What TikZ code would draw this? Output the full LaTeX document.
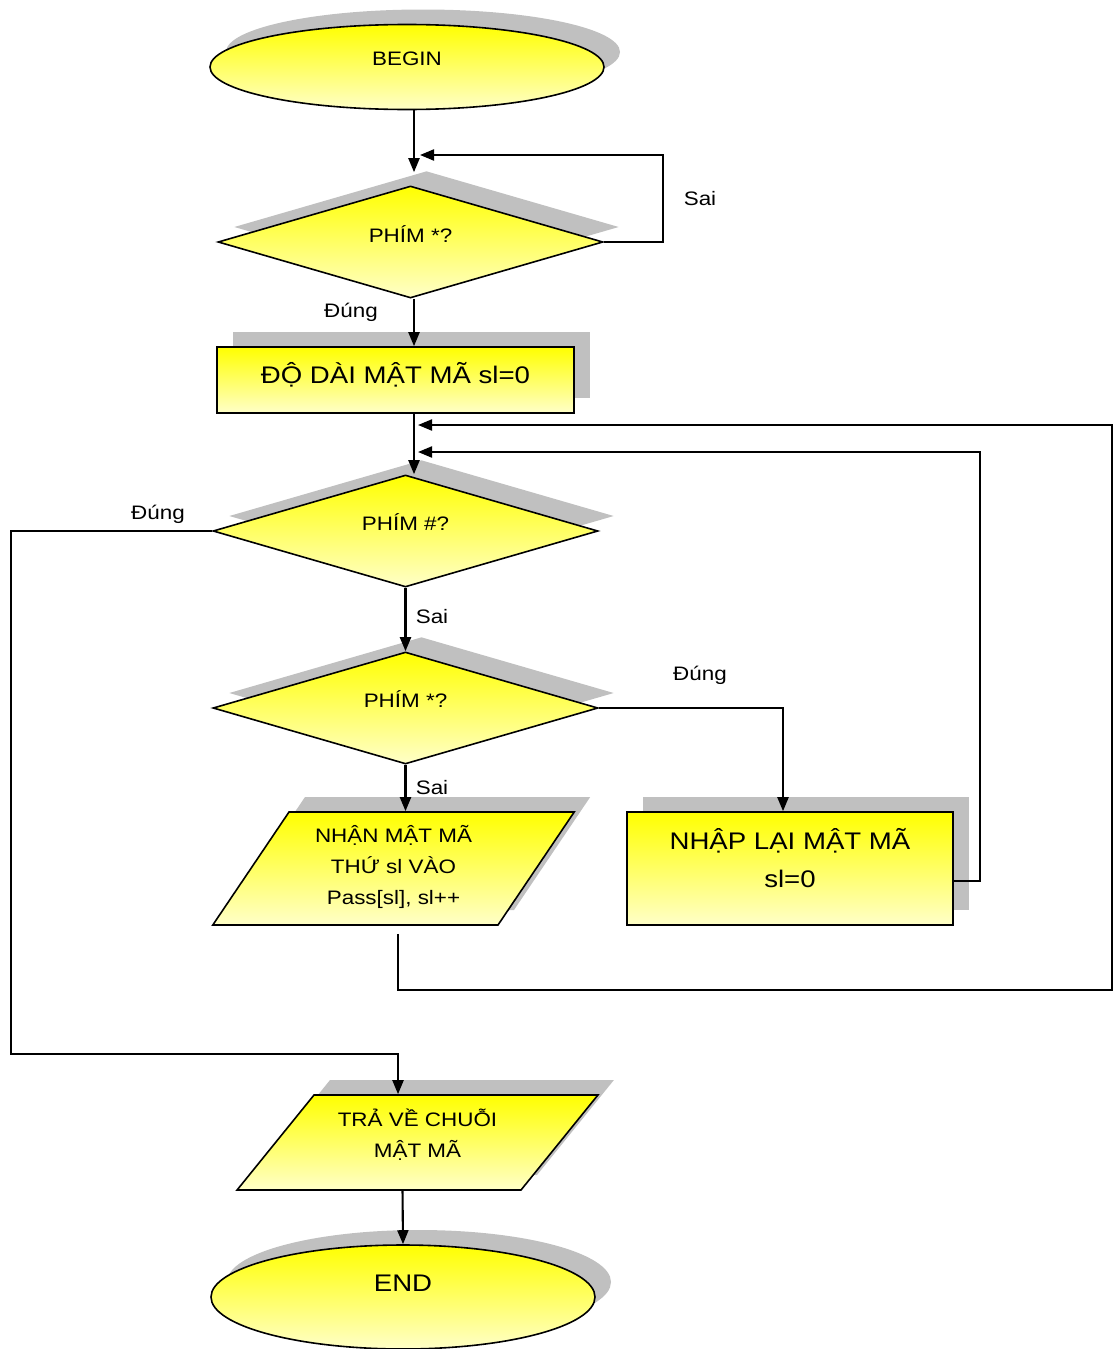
\documentclass[tikz,border=0pt]{standalone}
\usepackage{fontspec}
\setmainfont{Liberation Sans}[FakeStretch=1.15]
\usetikzlibrary{shapes.geometric,shadows,arrows.meta}
\definecolor{ylight}{RGB}{255,255,200}
\definecolor{shadowgray}{RGB}{192,192,192}
\begin{document}
\begin{tikzpicture}[x=1pt,y=-1pt,
  box/.style={draw,line width=1.6pt,top color=yellow,bottom color=ylight,inner sep=0pt,
    drop shadow={shadow xshift=16pt,shadow yshift=15pt,fill=shadowgray,opacity=1}},
  term/.style={box,ellipse},
  test/.style={box,diamond,minimum width=385pt,minimum height=112pt},
  io/.style={box,trapezium,text depth=0pt},
  txt/.style={font=\fontsize{19.5}{31}\selectfont},
  big/.style={font=\fontsize{24}{38}\selectfont},
  arr/.style={line width=2.1pt,-{Triangle[length=14pt,width=11pt]}}]
\useasboundingbox (0,0) rectangle (1114,1349);
\node (begin) [term,minimum width=394pt,minimum height=85pt,label={[txt,yshift=8pt]center:BEGIN}] at (407,67) {};
\node (keystar) [test,label={[txt,yshift=8pt]center:PHÍM *?}] at (410.5,242) {};
\node (setlen) [box,minimum width=357pt,minimum height=66pt,label={[big,yshift=5pt]center:ĐỘ DÀI MẬT MÃ sl=0}] at (395.5,380) {};
\node (keyhash) [test,label={[txt,yshift=9pt]center:PHÍM \#?}] at (405.5,531) {};
\node (keystar2) [test,label={[txt,yshift=9pt]center:PHÍM *?}] at (405.5,708) {};
\node (readkey) [io,trapezium left angle=56,trapezium right angle=124,text width=209pt,text height=113pt,
  label={[txt,align=center,yshift=2pt]center:{NHẬN MẬT MÃ\\THỨ sl VÀO\\Pass[sl], sl++}}] at (393.5,868.5) {};
\node (reset) [box,minimum width=326pt,minimum height=113pt,
  label={[big,align=center,yshift=10pt]center:{NHẬP LẠI MẬT MÃ\\sl=0}}] at (790,868.5) {};
\node (retpass) [io,trapezium left angle=51,trapezium right angle=129,text width=207pt,text height=95pt,
  label={[txt,align=center,yshift=8pt]center:{TRẢ VỀ CHUỖI\\MẬT MÃ}}] at (417.5,1142.5) {};
\node (end) [term,minimum width=384pt,minimum height=104pt,label={[big,yshift=14pt]center:END}] at (403,1297) {};

\node (sai1) [txt] at (700,199) {Sai};
\node (dung1) [txt] at (351,312) {Đúng};
\node (dung2) [txt] at (158,514) {Đúng};
\node (sai2) [txt] at (432,617) {Sai};
\node (dung3) [txt] at (700,675) {Đúng};
\node (sai3) [txt] at (432,788) {Sai};

\coordinate (spine) at (414,0);
\coordinate (in0) at (420,155);
\coordinate (in1) at (418,425);
\coordinate (in2) at (418,452);
\coordinate (lft) at (11,1054);
\coordinate (rr) at (980,452);
\coordinate (far) at (1112,425);

\draw[arr,shorten >=13pt] (begin.south -| spine) -- (keystar.north -| spine);
\draw[arr] (keystar.east) -- ++(59,0) |- (in0);
\draw[arr] (keystar.south -| spine) -- (setlen.north -| spine);
\draw[arr] (setlen.south -| spine) -- (keyhash.north -| spine);
\draw[arr] (keyhash.south) -- (keystar2.north);
\draw[arr] (keyhash.west) -| (lft) -| ([xshift=-19.5pt]retpass.north);
\draw[arr] (keystar2.east) -| ([xshift=-7pt]reset.north);
\draw[arr] (keystar2.south) -- (keystar2.south |- readkey.north);
\draw[arr] ([yshift=-12.5pt]reset.east) -| (rr) -- (in2);
\draw[arr] ([xshift=4.5pt,yshift=-8pt]readkey.south) -- ++(0,56) -| (far) -- (in1);
\draw[arr] ([xshift=-15pt]retpass.south) -- (end.north);
\end{tikzpicture}
\end{document}
